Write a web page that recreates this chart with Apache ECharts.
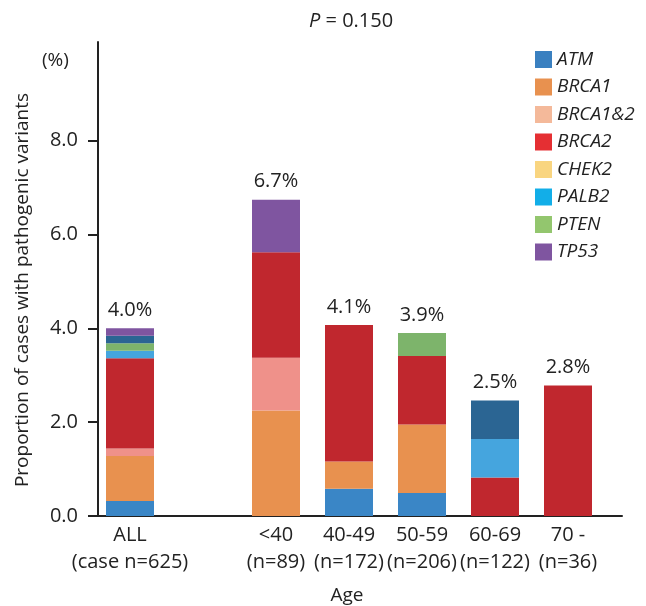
<!DOCTYPE html>
<html>
<head>
<meta charset="UTF-8">
<title>Pathogenic variants by age</title>
<script src="https://cdn.jsdelivr.net/npm/echarts@6/dist/echarts.min.js"></script>
<style>
  html, body { margin: 0; padding: 0; background: #fff; }
  #chart { width: 646px; height: 606px; }
</style>
</head>
<body>
<div id="chart"></div>
<script>
// x slots: ALL, gap, then the age groups
var categories = ['ALL\n(case n=625)', '', '<40\n(n=89)', '40-49\n(n=172)', '50-59\n(n=206)', '60-69\n(n=122)', '70 -\n(n=36)'];
var slots = [0, 2, 3, 4, 5, 6];
var totalLabels = ['4.0%', '6.7%', '4.1%', '3.9%', '2.5%', '2.8%'];

// % of cases per gene, one value per group (stacked bottom -> top)
var atm     = [0.32, 0,    0.58, 0.49, 0,    0];
var brca1   = [0.96, 2.25, 0.58, 1.46, 0,    0];
var brca12  = [0.16, 1.12, 0,    0,    0,    0];
var brca2   = [1.92, 2.25, 2.91, 1.46, 0.82, 2.78];
var palb2   = [0.16, 0,    0,    0,    0.82, 0];
var pten    = [0.16, 0,    0,    0.49, 0,    0];
var chek2   = [0.16, 0,    0,    0,    0.82, 0];
var tp53    = [0.16, 1.12, 0,    0,    0,    0];

var yTicks = [0, 2, 4, 6, 8];

var font = '"Open Sans", sans-serif';
var txt = '#222';

// spread the 6 group values onto the 7 category slots
function toSlots(arr) {
    var out = categories.map(function () { return '-'; });
    slots.forEach(function (s, i) { out[s] = arr[i]; });
    return out;
}

// bar colour / legend key colour
var genes = [
    {name: 'ATM',      data: atm,    bar: '#3a86c6', key: '#3a80c0'},
    {name: 'BRCA1',    data: brca1,  bar: '#e8914f', key: '#e8914f'},
    {name: 'BRCA1&2',  data: brca12, bar: '#ef918a', key: '#f4b99a'},
    {name: 'BRCA2',    data: brca2,  bar: '#c0272e', key: '#e52f33'},
    {name: 'PALB2',    data: palb2,  bar: '#45a5de', key: '#12aee8'},
    {name: 'PTEN',     data: pten,   bar: '#7db46b', key: '#93c66e'},
    {name: 'CHEK2',    data: chek2,  bar: '#2b6593', key: '#f9d580'},
    {name: 'TP53',     data: tp53,   bar: '#7f55a0', key: '#7f55a0'}
];
var legendOrder = ['ATM', 'BRCA1', 'BRCA1&2', 'BRCA2', 'CHEK2', 'PALB2', 'PTEN', 'TP53'];

var series = genes.map(function (g) {
    return {
        name: g.name,
        type: 'bar',
        stack: 'all',
        barWidth: 48,
        itemStyle: {color: g.bar},
        data: toSlots(g.data)
    };
});
// empty top segment carrying the percentage labels
var labelIdx = [];
slots.forEach(function (s, i) { labelIdx[s] = i; });
series.push({
    name: 'total',
    type: 'bar',
    stack: 'all',
    barWidth: 48,
    itemStyle: {color: 'transparent'},
    label: {
        show: true,
        position: 'top',
        distance: 8,
        color: txt,
        fontFamily: font,
        fontSize: 20,
        formatter: function (p) { return totalLabels[labelIdx[p.dataIndex]]; }
    },
    data: toSlots([0, 0, 0, 0, 0, 0])
});

var legendData = legendOrder.map(function (n) {
    var g = genes.filter(function (x) { return x.name === n; })[0];
    return {name: n, itemStyle: {color: g.key}};
});

var yMax = 10.1;

var myChart = echarts.init(document.getElementById('chart'));
myChart.setOption({
    animation: false,
    title: {
        text: '{i|P} = 0.150',
        left: 304,
        top: 6,
        textStyle: {
            fontFamily: font, fontSize: 20, fontWeight: 'normal', color: txt,
            rich: {i: {fontStyle: 'italic', fontFamily: font, fontSize: 20, color: txt}}
        }
    },
    legend: {
        orient: 'vertical',
        left: 530,
        top: 45,
        itemWidth: 17,
        itemHeight: 17,
        itemGap: 8.5,
        icon: 'rect',
        selectedMode: false,
        textStyle: {fontFamily: font, fontSize: 19, fontStyle: 'italic', color: txt},
        data: legendData
    },
    graphic: [{
        type: 'text',
        left: 42,
        top: 51,
        style: {text: '(%)', fontFamily: font, fontSize: 19, fill: txt}
    }],
    grid: [
        // bars
        {left: 93.5, right: 41.5, top: 42, bottom: 90, outerBoundsMode: 'none'},
        // axes frame
        {left: 98, right: 24, top: 42, bottom: 90, outerBoundsMode: 'none'}
    ],
    xAxis: [{
        gridIndex: 0,
        type: 'category',
        data: categories,
        axisLine: {show: false},
        axisTick: {show: false},
        axisLabel: {
            interval: 0,
            margin: 6,
            color: txt,
            fontFamily: font,
            fontSize: 20,
            lineHeight: 27
        }
    }, {
        gridIndex: 1,
        type: 'value',
        min: 0,
        max: 1,
        name: 'Age',
        nameLocation: 'middle',
        nameGap: 70,
        nameTextStyle: {fontFamily: font, fontSize: 19, color: txt, padding: [0, 26, 0, 0]},
        splitLine: {show: false},
        axisTick: {show: false},
        axisLabel: {show: false},
        axisLine: {lineStyle: {color: '#222', width: 2}}
    }],
    yAxis: [{
        gridIndex: 0,
        type: 'value',
        min: 0,
        max: yMax,
        show: false
    }, {
        gridIndex: 1,
        type: 'value',
        min: 0,
        max: yMax,
        name: 'Proportion of cases with pathogenic variants',
        nameLocation: 'middle',
        nameGap: 66,
        nameTextStyle: {fontFamily: font, fontSize: 19, color: txt, padding: [0, 22, 0, 0]},
        splitLine: {show: false},
        axisLine: {show: true, lineStyle: {color: '#222', width: 2}},
        axisTick: {show: true, customValues: yTicks, length: 10, lineStyle: {color: '#222', width: 2}},
        axisLabel: {
            customValues: yTicks,
            margin: 20,
            color: txt,
            fontFamily: font,
            fontSize: 20,
            formatter: function (v) { return v.toFixed(1); }
        }
    }],
    series: series
});
window.onresize = myChart.resize;
</script>
</body>
</html>
